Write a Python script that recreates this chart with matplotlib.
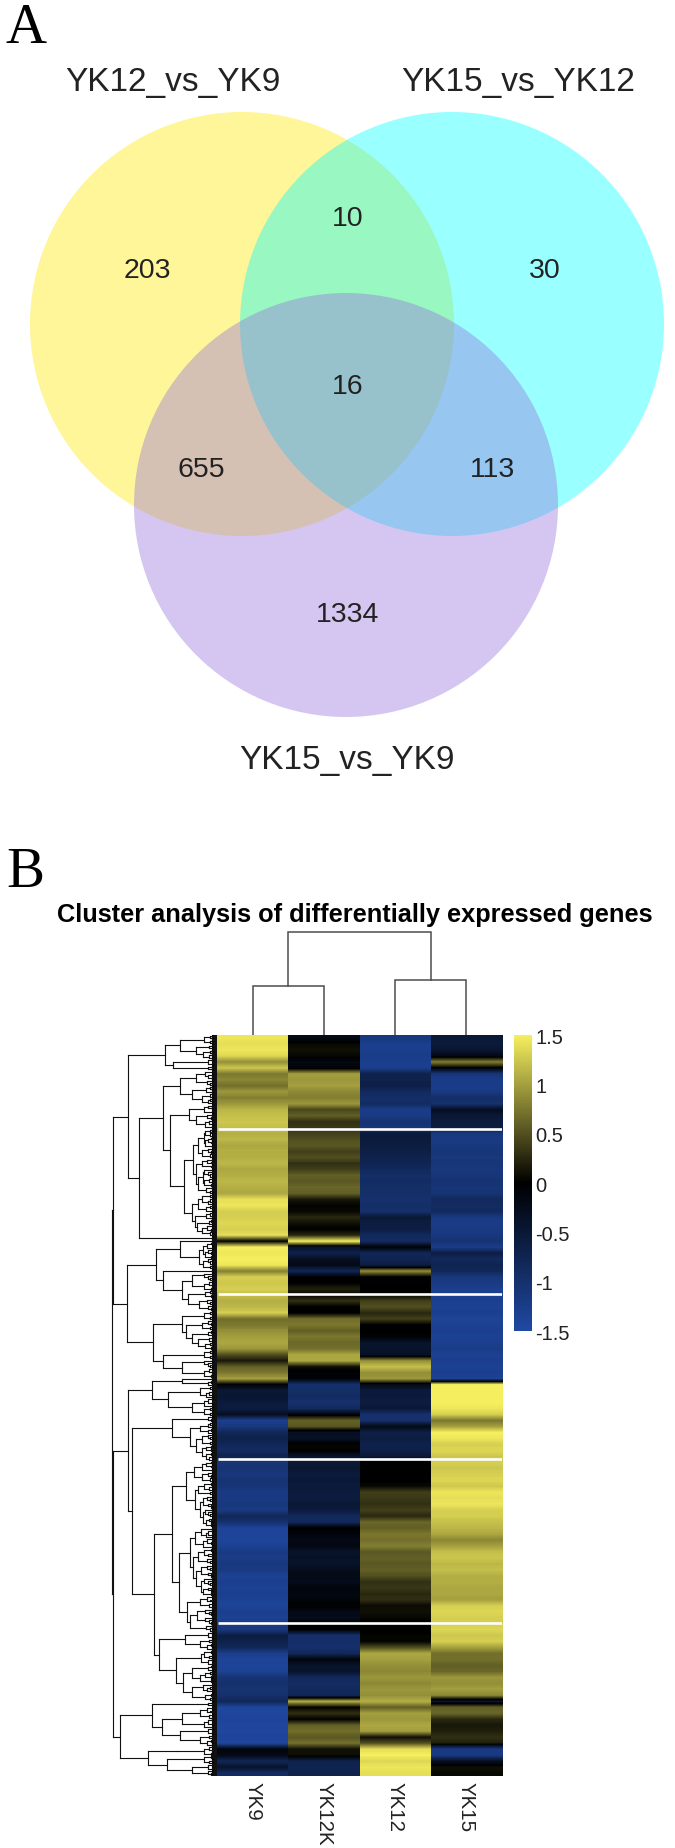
# -*- coding: utf-8 -*-
import numpy as np
import matplotlib
matplotlib.use('Agg')
import matplotlib.pyplot as plt
from matplotlib.patches import Circle
from matplotlib.collections import LineCollection
from matplotlib.colors import LinearSegmentedColormap

plt.rcParams['font.family'] = ['Liberation Sans', 'DejaVu Sans']

W, H = 675, 1849

# venn
set_names = ['YK12_vs_YK9', 'YK15_vs_YK12', 'YK15_vs_YK9']
set_colors = ['#FFE600', '#00FFFF', '#9671DE']
counts = [203, 10, 30, 16, 655, 113, 1334]

# heatmap, top row first
samples = ['YK9', 'YK12K', 'YK12', 'YK15']
yk9 = [1.45, 1.4, 1.45, 1.35, 0.9, 1.25, 0.75, 0.85, 0.7, 0.95, 0.8, 0.95, 1.15, 1.2, 1.25, 1.2,
       1.1, 1.15, 1.05, 1.1, 1.1, 1.15, 1.05, 1.1, 1.15, 1.1, 1.05, 1.4, 1.45, 1.3, 1.3, 1.35,
       1.3, 1.4, 0.0, 1.5, 1.45, 1.5, 1.45, 0.8, 1.3, 1.25, 1.3, 1.2, 1.1, 1.15, 1.3, 0.7,
       0.75, 0.9, 1.0, 1.05, 0.95, 0.5, 0.15, 0.6, 0.75, 1.0, -0.05, -0.5, -0.45, -0.55, -0.6, -0.3,
       -1.3, -1.15, -0.8, -0.7, -0.8, -0.9, -0.7, -1.1, -1.05, -1.15, -1.05, -1.1, -1.2, -1.2, -1.15, -1.2,
       -0.8, -1.0, -1.4, -1.4, -1.4, -1.35, -1.2, -1.25, -1.15, -1.2, -1.35, -1.3, -1.35, -1.3, -1.35, -1.4,
       -1.3, -1.35, -1.2, -1.15, -0.6, -0.7, -0.8, -1.3, -1.4, -1.4, -1.35, -1.05, -1.0, -1.05, -1.0, -0.8,
       -1.45, -1.45, -1.4, -1.45, -1.45, -1.4, -1.45, -0.1, -0.2, -0.8, -0.4, -0.9]
yk12k = [-0.2, 0.05, 0.1, 0.05, -0.15, -0.1, 1.0, 0.95, 1.0, 0.85, 0.8, 0.95, 0.45, 0.6, 0.3, 0.35,
         0.4, 0.5, 0.55, 0.4, 0.5, 0.3, 0.4, 0.6, 0.55, 0.65, 0.6, 0.15, 0.02, 0.05, 0.25, 0.1,
         0.0, 0.25, 1.5, -0.4, -0.7, -0.3, -0.2, -0.8, 0.0, 0.0, 0.2, 0.05, 0.3, 0.0, -0.02, 0.7,
         0.75, 0.6, 0.75, 0.65, 0.7, 1.05, 1.05, 0.1, -0.05, -0.05, -1.0, -0.95, -0.9, -1.0, -0.85, -0.1,
         0.6, 0.55, -0.3, -0.35, 0.03, 0.02, -0.4, -0.5, -0.45, -0.55, -0.5, -0.55, -0.55, -0.6, -0.5, -0.55,
         -0.85, -0.85, 0.0, -0.1, -0.2, -0.15, -0.4, -0.35, -0.4, -0.25, -0.2, -0.25, -0.1, -0.15, -0.1, 0.03,
         -0.2, -0.25, -0.05, -0.03, -1.0, -0.95, -1.0, -0.8, -0.1, -0.4, -0.4, -0.85, -0.9, -0.85, -0.8, 1.1,
         0.02, 0.3, 0.0, 0.6, 0.7, 0.55, 0.7, 0.1, 0.1, -0.7, -0.75, -0.7]
yk12 = [-1.15, -1.3, -1.3, -1.25, -1.3, -1.3, -0.7, -0.7, -0.65, -0.85, -0.95, -0.9, -1.25, -1.2, -1.05, -1.1,
        -0.55, -0.55, -0.6, -0.65, -0.7, -0.75, -0.85, -0.95, -0.9, -0.95, -0.95, -1.0, -0.95, -1.0, -0.5, -0.6,
        -0.6, -0.85, -0.9, -0.05, -0.8, -0.75, -0.6, 0.9, -0.03, -0.03, 0.0, 0.05, 0.4, 0.5, 0.25, 0.4,
        0.0, 0.0, -0.05, -0.4, -0.4, -0.35, 0.9, 1.2, 0.9, 0.95, -0.2, -0.55, -0.55, -0.6, -0.5, -1.0,
        -1.0, -0.2, -0.65, -0.6, -0.7, -0.65, -0.5, 0.0, -0.02, 0.0, 0.0, 0.05, 0.4, 0.35, 0.3, 0.4,
        0.25, 0.65, 0.6, 0.75, 0.7, 0.8, 0.55, 0.6, 0.55, 0.6, 0.5, 0.3, 0.35, 0.25, 0.3, 0.07,
        0.1, 0.05, -0.05, -0.02, 0.03, 0.03, 0.5, 1.05, 1.0, 0.9, 0.85, 0.95, 0.85, 0.95, 0.9, 1.1,
        0.6, 1.0, 0.95, 1.05, 1.0, 0.1, 0.5, 1.4, 1.5, 1.35, 1.45, 1.4]
yk15 = [-0.5, -0.55, -0.45, -0.2, 0.8, -0.03, -1.1, -1.25, -1.25, -1.2, -0.95, -1.0, -0.3, -0.5, -0.55, -0.6,
        -1.15, -1.2, -1.15, -1.1, -1.15, -1.1, -1.15, -1.1, -1.05, -1.1, -1.05, -0.85, -0.9, -0.85, -1.2, -1.25,
        -1.2, -1.15, -1.05, -1.25, -0.6, -0.85, -0.75, -0.8, -1.15, -1.2, -1.3, -1.35, -1.3, -1.35, -1.3, -1.4,
        -1.35, -1.3, -1.35, -1.3, -1.25, -1.35, -1.3, -1.35, -1.3, -1.35, 1.5, 1.5, 1.5, 1.5, 1.45, 1.3,
        0.75, 1.0, 1.5, 1.45, 1.3, 1.35, 1.25, 1.3, 1.25, 1.3, 1.35, 1.25, 1.45, 1.4, 1.45, 1.3,
        1.3, 1.2, 1.15, 1.05, 0.85, 1.0, 1.2, 1.25, 1.15, 1.2, 1.1, 1.1, 1.05, 1.05, 1.0, 1.3,
        1.35, 1.3, 1.3, 1.35, 1.25, 1.3, 1.0, 0.7, 0.7, 0.6, 0.65, 0.95, 0.9, 1.0, 0.85, -0.4,
        0.6, 0.65, 0.25, 0.15, 0.2, 0.3, 0.2, -1.2, -1.2, -0.3, 0.1, 0.05]
heat_cols = [yk9, yk12k, yk12, yk15]

# rows left empty in the heatmap, as a share of the height
gap_rows = [0.1262, 0.3495, 0.5722, 0.7935]

cbar_ticks = [1.5, 1, 0.5, 0, -0.5, -1, -1.5]
cbar_labels = ['1.5', '1', '0.5', '0', '-0.5', '-1', '-1.5']

# column tree: [height, left, right], leaves are column numbers
col_tree = [103, [49, 0, 1], [55, 2, 3]]

# row tree: [height, child, child], a bare int is a tight bunch of rows
row_tree = [105,
    [104,
        [89,
            [52, [37, 3, 5], [44, 2, 2]],
            [78,
                [54,
                    [37, 5, 6],
                    [47, [28, 3, 5], [33, [24, 10, 12], [25, 6, 8]]]],
                1]],
        [90,
            [61,
                [37, 1, [20, 9]],
                [54, 1, [35, 6, 7]]],
            [64,
                [35, 3, 10],
                [54, 3, [35, 3, 3]]]]],
    [104,
        [89,
            [65,
                [35, 1, 2],
                [49, 4, 6]],
            [85,
                [45, 2, [27, 4, 9]],
                [63,
                    [45,
                        [31, 7, 15],
                        [38, [27, 7, 16], [30, 4, 8]]],
                    [58,
                        [32, 2, 4],
                        [41, [18, 5], [34, 6, 6]]]]]],
        [97,
            [65, [20, 2], [55, [35, 4, 3], [37, 2, 4]]],
            [69, [40, 3], [50, 3, [25, 2, 2]]]]]]

# shape of the tight bunches next to the heatmap
fine_split = [0.5, 0.35, 0.6, 0.4, 0.55, 0.3, 0.65, 0.45, 0.5, 0.7]
fine_ratio = [0.82, 0.9, 0.75, 0.88, 0.8, 0.7, 0.9, 0.78]


def px_axes(fig, x0, y0, x1, y1):
    ax = fig.add_axes([x0 / W, 1 - y1 / H, (x1 - x0) / W, (y1 - y0) / H])
    ax.patch.set_alpha(0)
    return ax


class RowTree:
    def __init__(self):
        self.next_leaf = 0
        self.segs = []
        self.fine_i = 0

    def fine(self, n, parent_h):
        # returns y of this bunch, drawing it down to the heatmap edge
        if n == 1:
            y = self.next_leaf + 0.5
            self.next_leaf += 1
            self.segs.append(([parent_h, y], [0, y]))
            return y
        i = self.fine_i
        self.fine_i += 1
        h = min(parent_h * fine_ratio[i % len(fine_ratio)], 1.0 * n + 1)
        n1 = int(round(n * fine_split[i % len(fine_split)]))
        n1 = max(1, min(n - 1, n1))
        y1 = self.fine(n1, h)
        y2 = self.fine(n - n1, h)
        self.join(h, y1, y2)
        y = (y1 + y2) / 2
        self.segs.append(([parent_h, y], [h, y]))
        return y

    def join(self, h, y1, y2):
        self.segs.append(([h, y1], [h, y2]))

    def walk(self, node, parent_h):
        if isinstance(node, int):
            return self.fine(node * 4, parent_h)
        h = node[0]
        ys = [self.walk(c, h) for c in node[1:]]
        if len(ys) > 1:
            self.join(h, ys[0], ys[1])
        y = sum(ys) / len(ys)
        if parent_h is not None:
            self.segs.append(([parent_h, y], [h, y]))
        return y


def draw_col_tree(ax, node):
    if isinstance(node, int):
        return node + 0.5, 0
    h, left, right = node
    x1, h1 = draw_col_tree(ax, left)
    x2, h2 = draw_col_tree(ax, right)
    ax.plot([x1, x1, x2, x2], [h1, h, h, h2], color='#4d4d4d', lw=1.1, solid_joinstyle='miter')
    return (x1 + x2) / 2, h


fig = plt.figure(figsize=(W / 100, H / 100), dpi=100)
fig.patch.set_facecolor('white')

# whole page in pixels, for the venn and the free text
page = fig.add_axes([0, 0, 1, 1])
page.set_xlim(0, W)
page.set_ylim(H, 0)
page.axis('off')

centers = [(242, 325), (452, 325), (346, 506)]
for (cx, cy), c in zip(centers, set_colors):
    page.add_patch(Circle((cx, cy), 212, facecolor=c, edgecolor='none', alpha=0.4))

label_pos = [(173, 82), (518, 82), (347, 761)]
for (x, y), s in zip(label_pos, set_names):
    page.text(x, y, s, fontsize=24, color='#222222', ha='center', va='center')

count_pos = [(147, 271), (348, 219), (545, 271), (348, 387), (201, 470), (493, 470), (348, 615)]
for (x, y), n in zip(count_pos, counts):
    page.text(x, y, str(n), fontsize=20.5, color='#222222', ha='center', va='center')

page.text(5, 43, 'A', fontsize=41, family='Liberation Serif', color='black', ha='left', va='baseline')
page.text(6, 887, 'B', fontsize=41, family='Liberation Serif', color='black', ha='left', va='baseline')
page.text(355, 915, 'Cluster analysis of differentially expressed genes', fontsize=18.3,
          fontweight='bold', color='black', ha='center', va='center')

# heatmap
cmap = LinearSegmentedColormap.from_list('byk', ['#2049A3', '#000000', '#F5EE5E'])
heat = px_axes(fig, 217, 1036, 502, 1777)
nrows = len(yk9)
for i, col in enumerate(heat_cols):
    heat.imshow(np.array(col).reshape(-1, 1), cmap=cmap, vmin=-1.5, vmax=1.5, aspect='auto',
                extent=(i, i + 1, nrows, 0), interpolation='bilinear')
heat.set_xlim(0, len(samples))
heat.set_ylim(nrows, 0)
for g in gap_rows:
    heat.plot([0.02, len(samples)], [g * nrows, g * nrows], color='white', lw=1.9, solid_capstyle='butt')
heat.set_yticks([])
heat.set_xticks(np.arange(len(samples)) + 0.5)
heat.set_xticklabels(samples, rotation=-90, fontsize=14.8, color='#222222', ha='center', va='top')
heat.tick_params(axis='x', length=0, pad=3.5)
for s in heat.spines.values():
    s.set_visible(False)

# colour key
key = px_axes(fig, 514, 1036, 532, 1332)
key.imshow(np.linspace(1.5, -1.5, 200).reshape(-1, 1), cmap=cmap, vmin=-1.5, vmax=1.5, aspect='auto',
           extent=(0, 1, -1.5, 1.5))
key.set_xticks([])
key.yaxis.tick_right()
key.set_yticks(cbar_ticks)
key.set_yticklabels(cbar_labels, fontsize=14.5, color='#222222')
key.tick_params(axis='y', length=0, pad=2.5)
for s in key.spines.values():
    s.set_visible(False)

# dendrograms
top = px_axes(fig, 217, 926, 502, 1036)
top.set_xlim(0, len(samples))
top.set_ylim(0, 110)
top.axis('off')
draw_col_tree(top, col_tree)

left = px_axes(fig, 100, 1036, 217, 1777)
tree = RowTree()
tree.walk(row_tree, None)
left.add_collection(LineCollection(tree.segs, colors='#111111', linewidths=0.8, capstyle='projecting'))
left.axvspan(0, 5, color='black', lw=0)
left.set_xlim(117, 0)
left.set_ylim(tree.next_leaf, 0)
left.axis('off')

fig.savefig('out.png', dpi=100)
